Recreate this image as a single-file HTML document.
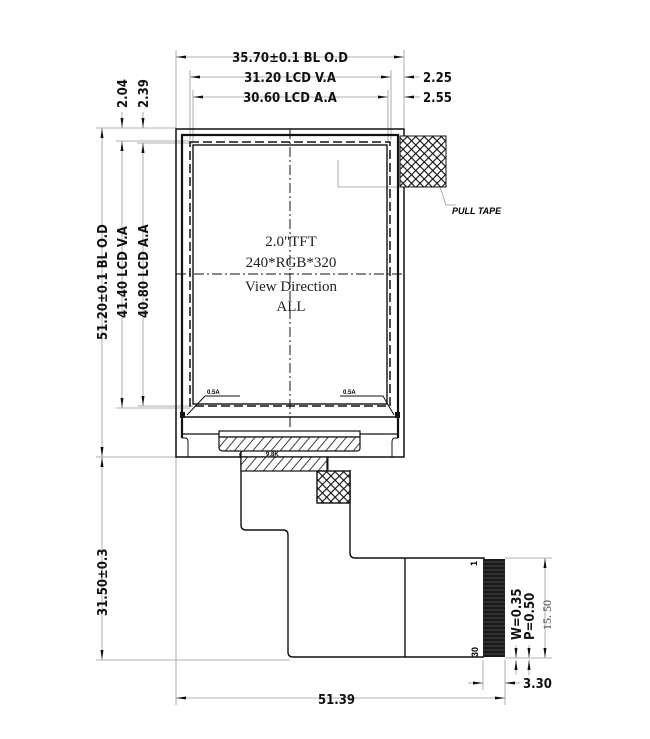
<!DOCTYPE html>
<html><head><meta charset="utf-8"><style>
html,body{margin:0;padding:0;background:#fff;width:650px;height:739px;overflow:hidden}
svg{display:block}
.d{font-family:"DejaVu Sans Condensed","DejaVu Sans","Liberation Sans",sans-serif;font-weight:bold;font-size:13px;fill:#111}
.s{font-family:"Liberation Serif",serif;font-size:15px;fill:#222}
</style></head><body>
<svg width="650" height="739" viewBox="0 0 650 739" xmlns="http://www.w3.org/2000/svg">
<defs>
<pattern id="h" width="7" height="7" patternUnits="userSpaceOnUse" patternTransform="rotate(40)"><rect width="7" height="7" fill="#fff"/><line x1="0" y1="0" x2="0" y2="7" stroke="#111" stroke-width="1.6"/></pattern>
<pattern id="x" width="6" height="6" patternUnits="userSpaceOnUse" patternTransform="rotate(45)"><rect width="6" height="6" fill="#fff"/><path d="M0 0H6M0 0V6" stroke="#111" stroke-width="2.2"/></pattern>
<marker id="a" markerWidth="10" markerHeight="6" refX="10" refY="3" orient="auto-start-reverse" markerUnits="userSpaceOnUse"><path d="M0 1.5L10 3L0 4.5Z" fill="#111"/></marker>
</defs>
<g stroke="#999" stroke-width="0.8" fill="none">
<line x1="176" y1="50" x2="176" y2="705"/><line x1="404" y1="50" x2="404" y2="128"/>
<line x1="190" y1="70" x2="190" y2="140"/><line x1="391" y1="70" x2="391" y2="140"/>
<line x1="193" y1="90" x2="193" y2="143"/><line x1="388" y1="90" x2="388" y2="143"/>
<line x1="96" y1="128" x2="176" y2="128"/><line x1="116" y1="141" x2="190" y2="141"/><line x1="137" y1="143" x2="193" y2="143"/>
<line x1="116" y1="408" x2="190" y2="408"/><line x1="137" y1="406" x2="193" y2="406"/>
<line x1="96" y1="457" x2="176" y2="457"/><line x1="96" y1="660" x2="290" y2="660"/>
<line x1="505" y1="558" x2="552" y2="558"/><line x1="505" y1="658" x2="552" y2="658"/>
<line x1="483" y1="660" x2="483" y2="690"/><line x1="505" y1="660" x2="505" y2="705"/>
<line x1="176" y1="57" x2="404" y2="57" marker-start="url(#a)" marker-end="url(#a)"/>
<line x1="190" y1="77" x2="391" y2="77" marker-start="url(#a)" marker-end="url(#a)"/>
<line x1="193" y1="97" x2="388" y2="97" marker-start="url(#a)" marker-end="url(#a)"/>
<line x1="404" y1="77" x2="420" y2="77" marker-start="url(#a)"/>
<line x1="404" y1="97" x2="420" y2="97" marker-start="url(#a)"/>
<line x1="102" y1="128" x2="102" y2="457" marker-start="url(#a)" marker-end="url(#a)"/>
<line x1="122" y1="141" x2="122" y2="408" marker-start="url(#a)" marker-end="url(#a)"/>
<line x1="143" y1="143" x2="143" y2="406" marker-start="url(#a)" marker-end="url(#a)"/>
<line x1="122" y1="112" x2="122" y2="128" marker-end="url(#a)"/>
<line x1="143" y1="112" x2="143" y2="128" marker-end="url(#a)"/>
<line x1="102" y1="457" x2="102" y2="660" marker-start="url(#a)" marker-end="url(#a)"/>
<line x1="176" y1="698" x2="505" y2="698" marker-start="url(#a)" marker-end="url(#a)"/>
<line x1="468" y1="683" x2="483" y2="683" marker-end="url(#a)"/>
<line x1="505" y1="683" x2="520" y2="683" marker-start="url(#a)"/>
<line x1="545" y1="558" x2="545" y2="658" marker-start="url(#a)" marker-end="url(#a)"/>
<line x1="516" y1="645" x2="516" y2="658" marker-end="url(#a)"/><line x1="516" y1="675" x2="516" y2="660" marker-end="url(#a)"/>
<line x1="529" y1="645" x2="529" y2="658" marker-end="url(#a)"/><line x1="529" y1="675" x2="529" y2="660" marker-end="url(#a)"/>
<path d="M338 160V187H398"/><path d="M440 187L446 205H456"/>
</g>
<g stroke="#111" fill="none">
<rect x="176" y="129" width="228" height="328" stroke-width="1.5"/>
<path d="M182 438V135H398V438" stroke-width="2.2"/>
<rect x="190" y="142" width="200" height="264" stroke-dasharray="9 4" stroke-width="1.5"/>
<rect x="193" y="145" width="194" height="259" stroke-width="1.4"/>
<path d="M182 434H398" stroke-width="1.2"/>
<path d="M185 417H396" stroke-width="1.5"/>
<path d="M205 396H240M205 396L187 415M340 396H383L394 415" stroke-width="1"/>
<path d="M182 438h3q3 0 3 4V457M398 438h-3q-3 0-3 4V457" stroke-width="1"/>
<path d="M176 274H404M290 129V430" stroke-dasharray="10 3 2 3" stroke-width="1"/>
<path d="M241 457V525q0 5 5 5H283q5 0 5 5V652q0 5 5 5H484M350 470V553q0 5 5 5H484V657M405 558V657" stroke-width="1.4"/>
<path d="M324 457V470M328 457V470" stroke-width="1"/>
</g>
<rect x="219" y="431" width="141" height="6" fill="#fff" stroke="#111" stroke-width="1.2"/>
<path d="M219 437H360V448q0 3-3 3H244q-3 0-4 3V457H241V451H223q-4 0-4-4Z" fill="url(#h)" stroke="#111" stroke-width="1.2"/>
<rect x="241" y="457" width="86" height="14" fill="url(#h)" stroke="#111" stroke-width="1.2"/>
<rect x="317" y="471" width="33" height="32" fill="url(#x)" stroke="#111" stroke-width="1.4"/>
<rect x="400" y="136" width="46" height="51" fill="url(#x)" stroke="#111" stroke-width="1"/>
<rect x="180" y="412" width="5" height="6" fill="#111"/><rect x="395" y="412" width="5" height="6" fill="#111"/>
<text x="207" y="394" font-family="Liberation Sans" font-size="6" font-weight="bold">0.5A</text>
<text x="343" y="394" font-family="Liberation Sans" font-size="6" font-weight="bold">0.5A</text>
<text x="266" y="456" font-family="Liberation Sans" font-size="6" font-weight="bold">9.8K</text>
<rect x="483" y="559" width="22" height="98" fill="#1a1a1a"/>
<g stroke="#777" stroke-width="0.5"><path d="M483 562H505M483 566H505M483 570H505M483 574H505M483 578H505M483 582H505M483 586H505M483 590H505M483 594H505M483 598H505M483 602H505M483 606H505M483 610H505M483 614H505M483 618H505M483 622H505M483 626H505M483 630H505M483 634H505M483 638H505M483 642H505M483 646H505M483 650H505M483 654H505"/></g>
<text class="d" x="290" y="62" text-anchor="middle">35.70±0.1  BL  O.D</text>
<text class="d" x="290" y="82" text-anchor="middle">31.20  LCD  V.A</text>
<text class="d" x="290" y="102" text-anchor="middle">30.60  LCD  A.A</text>
<text class="d" x="423" y="82">2.25</text>
<text class="d" x="423" y="102">2.55</text>
<text class="d" x="127" y="108" transform="rotate(-90 127 108)">2.04</text>
<text class="d" x="148" y="108" transform="rotate(-90 148 108)">2.39</text>
<text class="d" x="107" y="340" transform="rotate(-90 107 340)">51.20±0.1  BL  O.D</text>
<text class="d" x="127" y="318" transform="rotate(-90 127 318)">41.40  LCD  V.A</text>
<text class="d" x="148" y="318" transform="rotate(-90 148 318)">40.80  LCD  A.A</text>
<text class="d" x="107" y="616" transform="rotate(-90 107 616)">31.50±0.3</text>
<text class="d" x="318" y="704">51.39</text>
<text class="d" x="523" y="688">3.30</text>
<text class="d" x="521" y="640" transform="rotate(-90 521 640)">W=0.35</text>
<text class="d" x="534" y="640" transform="rotate(-90 534 640)">P=0.50</text>
<text x="551" y="630" transform="rotate(-90 551 630)" font-family="Liberation Serif" font-size="12" fill="#444">15. 50</text>
<text x="477" y="566" transform="rotate(-90 477 566)" font-family="Liberation Sans" font-weight="bold" font-size="9">1</text>
<text x="478" y="657" transform="rotate(-90 478 657)" font-family="Liberation Sans" font-weight="bold" font-size="9">30</text>
<text x="452" y="214" font-family="Liberation Sans" font-weight="bold" font-style="italic" font-size="9">PULL TAPE</text>
<text class="s" x="291" y="246" text-anchor="middle">2.0"TFT</text>
<text class="s" x="291" y="267" text-anchor="middle">240*RGB*320</text>
<text class="s" x="291" y="291" text-anchor="middle">View Direction</text>
<text class="s" x="291" y="311" text-anchor="middle">ALL</text>
</svg>
</body></html>
